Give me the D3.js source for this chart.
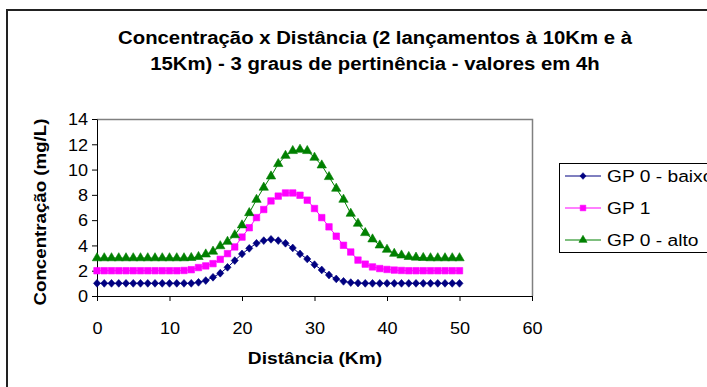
<!DOCTYPE html>
<html>
<head>
<meta charset="utf-8">
<script src="https://cdn.jsdelivr.net/npm/d3@7"></script>
<style>
  html, body { margin: 0; padding: 0; background: #fff; }
  svg { display: block; font-family: "Liberation Sans", Arial, sans-serif; }
</style>
</head>
<body>
<svg id="chart" width="707" height="387"></svg>
<script>
// Distance along the river (Km), one sample per kilometre
const distances = d3.range(0, 51);

// Concentration (mg/L) for each membership degree
const gp0Baixo = [
  1.00, 1.00, 1.00, 1.00, 1.00, 1.00, 1.00, 1.00, 1.00, 1.00,
  1.00, 1.00, 1.00, 1.00, 1.08, 1.22, 1.48, 1.80, 2.27, 2.80,
  3.33, 3.77, 4.17, 4.38, 4.48, 4.38, 4.17, 3.80, 3.33, 2.93,
  2.48, 2.06, 1.66, 1.35, 1.16, 1.06, 1.02, 1.00, 1.00, 1.00,
  1.00, 1.00, 1.00, 1.00, 1.00, 1.00, 1.00, 1.00, 1.00, 1.00,
  1.00
];
const gp1 = [
  2.00, 2.00, 2.00, 2.00, 2.00, 2.00, 2.00, 2.00, 2.00, 2.00,
  2.00, 2.00, 2.02, 2.08, 2.25, 2.38, 2.56, 2.90, 3.35, 3.88,
  4.66, 5.40, 6.20, 6.84, 7.52, 7.90, 8.15, 8.15, 7.97, 7.58,
  6.92, 6.20, 5.47, 4.73, 4.01, 3.48, 2.84, 2.52, 2.30, 2.17,
  2.10, 2.05, 2.02, 2.00, 2.00, 2.00, 2.00, 2.00, 2.00, 2.00,
  2.00
];
const gp0Alto = [
  3.00, 3.00, 3.00, 3.00, 3.00, 3.00, 3.00, 3.00, 3.00, 3.00,
  3.00, 3.00, 3.00, 3.02, 3.10, 3.30, 3.52, 3.95, 4.30, 4.82,
  5.60, 6.57, 7.62, 8.58, 9.47, 10.45, 11.10, 11.48, 11.58, 11.48,
  10.95, 10.34, 9.42, 8.50, 7.63, 6.52, 5.73, 4.99, 4.49, 4.01,
  3.67, 3.35, 3.22, 3.10, 3.05, 3.02, 3.00, 3.00, 3.00, 3.00,
  3.00
];

const seriesNames = ["GP 0 - baixo", "GP 1", "GP 0 - alto"];
const xTicks = [0, 10, 20, 30, 40, 50, 60];
const yTicks = [0, 2, 4, 6, 8, 10, 12, 14];

const titleLines = [
  "Concentração x Distância (2 lançamentos à 10Km e à",
  "15Km) - 3 graus de pertinência - valores em 4h"
];
const xTitle = "Distância (Km)";
const yTitle = "Concentração (mg/L)";

// Diamond marker slightly taller than wide
const diamond = {
  draw(ctx, size) {
    const r = Math.sqrt(size / 2);
    ctx.moveTo(0, -r * 1.1);
    ctx.lineTo(r, 0);
    ctx.lineTo(0, r * 1.1);
    ctx.lineTo(-r, 0);
    ctx.closePath();
  }
};

const series = [
  { name: seriesNames[0], values: gp0Baixo, color: "#000080", symbol: diamond,           size: 25 },
  { name: seriesNames[1], values: gp1,      color: "#FF00FF", symbol: d3.symbolSquare,   size: 42 },
  { name: seriesNames[2], values: gp0Alto,  color: "#008000", symbol: d3.symbolTriangle, size: 38 }
];

// Text is drawn slightly wide
const stretch = 1.13;

const svg = d3.select("#chart");

// Outer chart frame
svg.append("path")
  .attr("d", "M7,400 V10 H720")
  .attr("fill", "none")
  .attr("stroke", "#222")
  .attr("stroke-width", 2);

// Plot area
const plot = { left: 97, right: 532, top: 119, bottom: 296 };
const x = d3.scaleLinear().domain([0, 60]).range([plot.left, plot.right]);
const y = d3.scaleLinear().domain([0, 14]).range([plot.bottom, plot.top]);

// Grey top/right edges of the plot area
svg.append("path")
  .attr("d", `M${plot.left},${plot.top + 0.5} H${plot.right + 0.5} V${plot.bottom}`)
  .attr("fill", "none")
  .attr("stroke", "#808080")
  .attr("stroke-width", 1.5);

// Axes
const xAxis = svg.append("g")
  .attr("transform", `translate(0,${plot.bottom})`)
  .call(d3.axisBottom(x).tickValues(xTicks).tickSize(5).tickSizeOuter(0));
const yAxis = svg.append("g")
  .attr("transform", `translate(${plot.left},0)`)
  .call(d3.axisLeft(y).tickValues(yTicks).tickSize(5).tickSizeOuter(0));

[xAxis, yAxis].forEach(g => {
  g.select(".domain").attr("stroke", "#000").attr("stroke-width", 1);
  g.selectAll(".tick line").attr("stroke", "#000");
  g.selectAll(".tick text")
    .attr("fill", "#000")
    .style("font-family", "'Liberation Sans', Arial, sans-serif")
    .style("font-size", "16px");
});
xAxis.selectAll(".tick text")
  .attr("y", 0).attr("dy", null)
  .attr("transform", `translate(0,38) scale(${stretch},1)`);
yAxis.selectAll(".tick text")
  .attr("x", 0).attr("dy", "0.36em")
  .attr("transform", `translate(-9,0) scale(${stretch},1)`);

// Series lines and markers
const line = d3.line()
  .x((d, i) => x(distances[i]))
  .y(d => y(d));

series.forEach(s => {
  svg.append("path")
    .datum(s.values)
    .attr("d", line)
    .attr("fill", "none")
    .attr("stroke", s.color)
    .attr("stroke-width", 1);

  svg.append("g")
    .selectAll("path")
    .data(s.values)
    .join("path")
    .attr("transform", (d, i) => `translate(${x(distances[i])},${y(d)})`)
    .attr("d", d3.symbol().type(s.symbol).size(s.size))
    .attr("fill", s.color)
    .attr("stroke", s.color)
    .attr("stroke-width", 0.6);
});

// Helper for horizontally stretched text
function wideText(px, py, str, opts) {
  const g = svg.append("g")
    .attr("transform", `translate(${px},${py}) scale(${stretch},1)`);
  return g.append("text")
    .attr("x", 0).attr("y", 0)
    .attr("text-anchor", opts.anchor || "middle")
    .attr("font-weight", opts.bold ? "bold" : null)
    .attr("font-size", opts.size + "px")
    .attr("fill", "#000")
    .text(str);
}

// Titles
titleLines.forEach((t, i) => wideText(375, 44 + i * 26, t, { size: 18, bold: true }));
wideText(315, 364, xTitle, { size: 17, bold: true });
svg.append("g")
  .attr("transform", "translate(46,212) rotate(-90) scale(1.1,1)")
  .append("text")
  .attr("text-anchor", "middle")
  .attr("font-weight", "bold")
  .attr("font-size", "17px")
  .attr("fill", "#000")
  .text(yTitle);

// Legend
const legend = svg.append("g");
legend.append("rect")
  .attr("x", 559.5)
  .attr("y", 163.5)
  .attr("width", 200)
  .attr("height", 89)
  .attr("fill", "#fff")
  .attr("stroke", "#000")
  .attr("stroke-width", 1);

const rowY = [176, 208, 240];
series.forEach((s, i) => {
  const g = legend.append("g").attr("transform", `translate(0,${rowY[i]})`);
  g.append("line")
    .attr("x1", 565).attr("x2", 601)
    .attr("y1", 0).attr("y2", 0)
    .attr("stroke", s.color)
    .attr("stroke-width", 1);
  g.append("path")
    .attr("transform", "translate(583,0)")
    .attr("d", d3.symbol().type(s.symbol).size(s.size * 0.75))
    .attr("fill", s.color)
    .attr("stroke", s.color)
    .attr("stroke-width", 0.6);
  wideText(607, rowY[i] + 6, s.name, { size: 17, anchor: "start" });
});
</script>
</body>
</html>
